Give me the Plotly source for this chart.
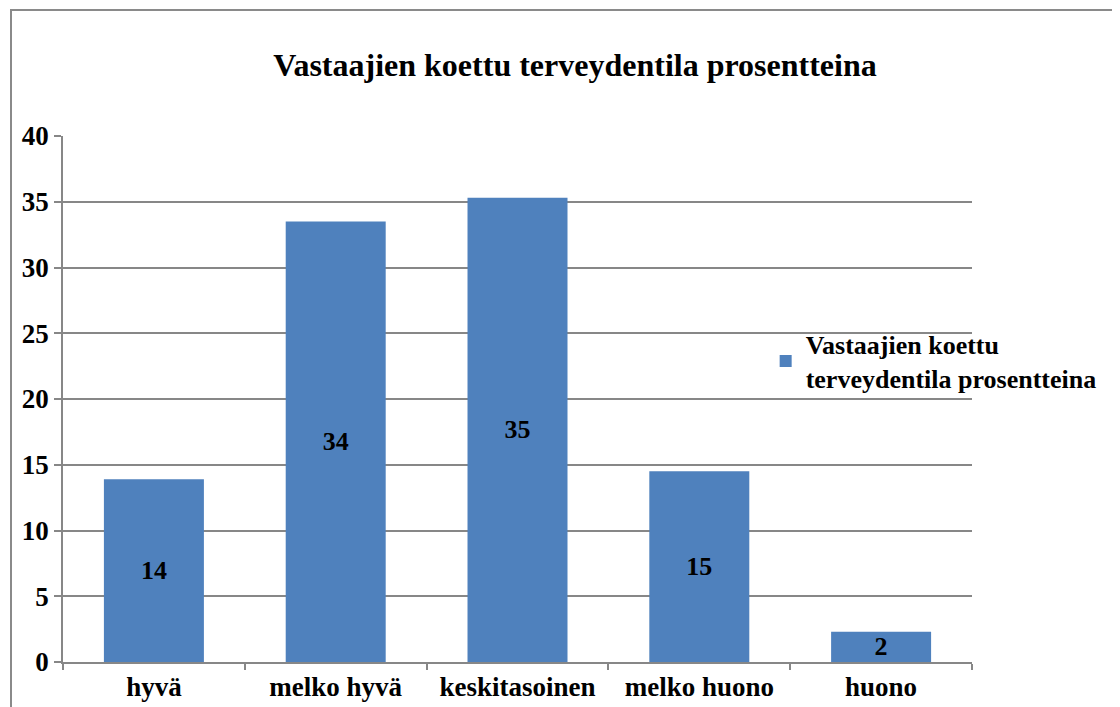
import plotly.graph_objects as go

categories = ["hyvä", "melko hyvä", "keskitasoinen", "melko huono", "huono"]
values = [13.9, 33.5, 35.3, 14.5, 2.3]
labels = ["14", "34", "35", "15", "2"]
series_name = "Vastaajien koettu<br>terveydentila prosentteina"
title_text = "Vastaajien koettu terveydentila prosentteina"
y_ticks = [0, 5, 10, 15, 20, 25, 30, 35, 40]

FONT = "Liberation Serif"
GRAY = "#878787"

# page has an 8px body margin; figure is sized/offset to compensate
W, H = 1112, 699
L, T, PW, PH = 55, 128, 909, 526

fig = go.Figure()
fig.add_trace(go.Bar(
    x=categories, y=values, name=series_name,
    text=labels, textposition="inside", insidetextanchor="middle",
    textangle=0, constraintext="none",
    textfont=dict(family=FONT, size=26, color="black", weight="bold"),
    marker=dict(color="#4F81BD", line=dict(width=0)),
    width=0.55, showlegend=True,
))

fig.update_layout(
    width=W, height=H,
    margin=dict(l=L, r=W - L - PW, t=T, b=H - T - PH, autoexpand=False),
    paper_bgcolor="white", plot_bgcolor="white",
    font=dict(family=FONT, color="black"),
    title=dict(text=title_text, x=(567 / W), xanchor="center",
               y=1 - 57 / H, yanchor="middle",
               font=dict(family=FONT, size=32, weight="bold", color="black")),
    showlegend=True,
    legend=dict(x=0.773, xanchor="left", y=0.572, yanchor="middle",
                font=dict(family=FONT, size=26, weight="bold", color="black"),
                bgcolor="rgba(0,0,0,0)"),
    bargap=0.45,
)
fig.update_yaxes(range=[0, 40], tickvals=y_ticks, showgrid=True, gridcolor=GRAY,
                 gridwidth=1.5, showline=True, linecolor=GRAY, linewidth=1.5,
                 ticks="outside", ticklen=7, tickcolor=GRAY, tickwidth=1.5,
                 tickfont=dict(family=FONT, size=27, weight="bold", color="black"),
                 zeroline=False, fixedrange=True, automargin=False)
fig.update_xaxes(showline=True, linecolor=GRAY, linewidth=1.5,
                 ticks="outside", ticklen=6, tickcolor=GRAY, tickwidth=1.5,
                 tickson="boundaries", automargin=False,
                 tickfont=dict(family=FONT, size=27, weight="bold", color="black"),
                 showgrid=False)

# outer chart frame
fig.add_shape(type="rect", xref="paper", yref="paper",
              x0=(3 - L) / PW, x1=(1130 - L) / PW,
              y0=(T + PH - 720) / PH, y1=(T + PH - 2) / PH,
              line=dict(color="#8a8a8a", width=2), fillcolor="rgba(0,0,0,0)",
              layer="below")

fig.write_html("out.html")
